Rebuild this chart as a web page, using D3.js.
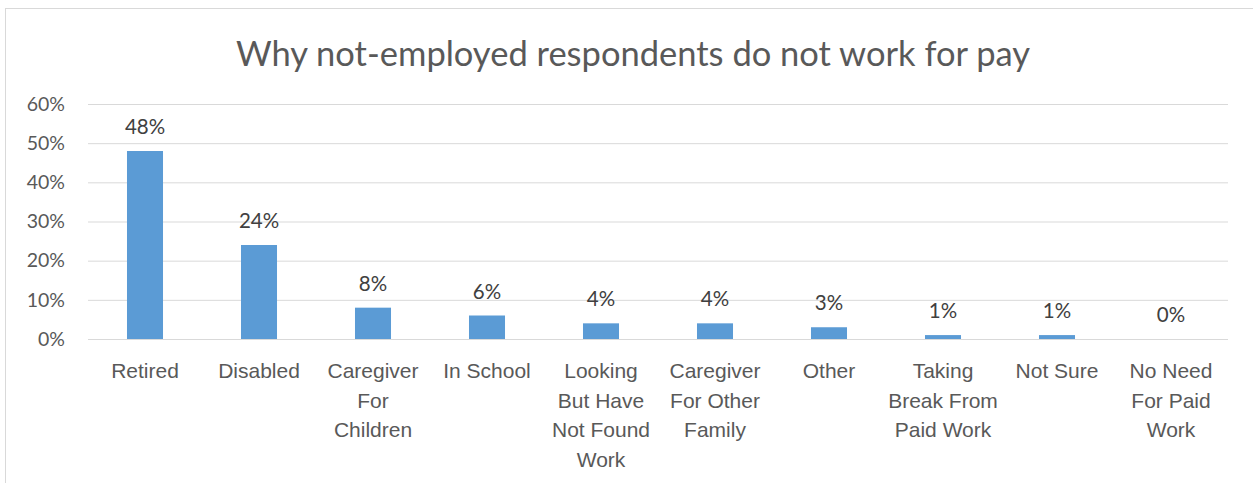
<!DOCTYPE html>
<html>
<head>
<meta charset="utf-8">
<script src="https://cdn.jsdelivr.net/npm/d3@7"></script>
<style>
  html, body { margin: 0; padding: 0; background: #ffffff; }
  svg { display: block; font-family: Lato, "Open Sans", sans-serif; }
</style>
</head>
<body>
<svg id="chart" width="1253" height="483"></svg>
<script>
// Reasons given by respondents who are not employed
const categories = [
  "Retired",
  "Disabled",
  "Caregiver\nFor\nChildren",
  "In School",
  "Looking\nBut Have\nNot Found\nWork",
  "Caregiver\nFor Other\nFamily",
  "Other",
  "Taking\nBreak From\nPaid Work",
  "Not Sure",
  "No Need\nFor Paid\nWork"
];
const shares = [0.48, 0.24, 0.08, 0.06, 0.04, 0.04, 0.03, 0.01, 0.01, 0.00];
const yTicks = [0, 0.1, 0.2, 0.3, 0.4, 0.5, 0.6];
const title = "Why not-employed respondents do not work for pay";

const svg = d3.select("#chart");
const W = 1253, H = 483;
const margin = { left: 88, right: 25, top: 104, bottom: 144 };

// light chart-area frame
svg.append("rect")
  .attr("x", 5.5).attr("y", 8.5)
  .attr("width", 1260).attr("height", 490)
  .attr("fill", "none")
  .attr("stroke", "#d9d9d9").attr("stroke-width", 1);

const x = d3.scaleBand()
  .domain(categories)
  .range([margin.left, W - margin.right])
  .paddingInner(0.684)
  .paddingOuter(0.342);

const y = d3.scaleLinear()
  .domain([0, 0.6])
  .range([H - margin.bottom, margin.top]);

// title
svg.append("text")
  .attr("x", 633).attr("y", 66)
  .attr("text-anchor", "middle")
  .attr("font-size", 34.5)
  .attr("fill", "#595959")
  .text(title);

// gridlines and percentage ticks
const yAxis = d3.axisLeft(y)
  .tickValues(yTicks)
  .tickFormat(d3.format(".0%"))
  .tickSize(-(W - margin.right - margin.left))
  .tickPadding(23);

const gy = svg.append("g")
  .attr("transform", `translate(${margin.left},0)`)
  .call(yAxis);
gy.select(".domain").remove();
gy.selectAll(".tick line").attr("stroke", "#d9d9d9").attr("stroke-width", 1);
gy.selectAll(".tick text")
  .attr("fill", "#595959")
  .attr("font-size", 19.5)
  .attr("font-family", "Lato, 'Open Sans', sans-serif");

// bars
svg.append("g").selectAll("rect")
  .data(categories)
  .join("rect")
  .attr("x", d => x(d))
  .attr("width", x.bandwidth())
  .attr("y", (d, i) => y(shares[i]))
  .attr("height", (d, i) => y(0) - y(shares[i]))
  .attr("fill", "#5b9bd5");

// value labels
svg.append("g").selectAll("text")
  .data(categories)
  .join("text")
  .attr("x", d => x(d) + x.bandwidth() / 2)
  .attr("y", (d, i) => y(shares[i]) - 17)
  .attr("text-anchor", "middle")
  .attr("font-size", 20.5)
  .attr("fill", "#404040")
  .text((d, i) => d3.format(".0%")(shares[i]));

// category labels
const xAxis = d3.axisBottom(x).tickSize(0).tickFormat("");
const gx = svg.append("g")
  .attr("transform", `translate(0,${y(0)})`)
  .call(xAxis);
gx.select(".domain").remove();
gx.selectAll(".tick").each(function(d) {
  const t = d3.select(this).append("text")
    .attr("text-anchor", "middle")
    .attr("font-size", 21)
    .attr("fill", "#595959")
    .attr("y", 39);
  d.split("\n").forEach((line, k) => {
    t.append("tspan").attr("x", 0).attr("dy", k === 0 ? 0 : 29.5).text(line);
  });
});
</script>
</body>
</html>
